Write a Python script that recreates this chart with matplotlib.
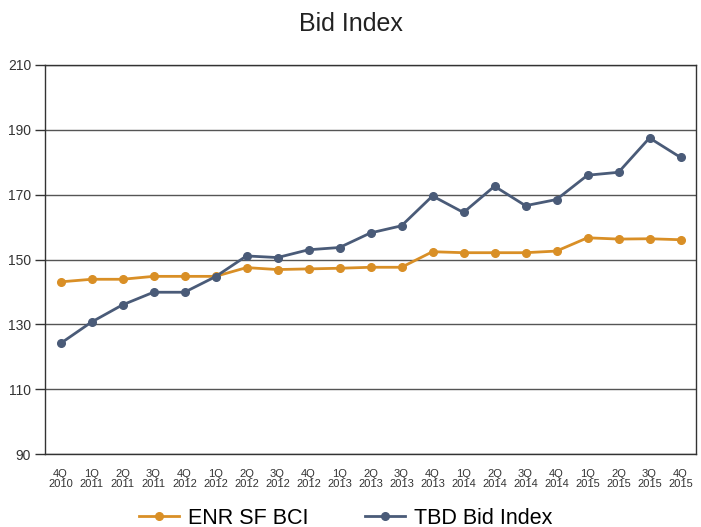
import matplotlib
matplotlib.use("Agg")
import matplotlib.pyplot as plt

plt.rcParams['font.family'] = ['Liberation Sans', 'DejaVu Sans']

quarters = ["4Q\n2010", "1Q\n2011", "2Q\n2011", "3Q\n2011", "4Q\n2012", "1Q\n2012",
            "2Q\n2012", "3Q\n2012", "4Q\n2012", "1Q\n2013", "2Q\n2013", "3Q\n2013",
            "4Q\n2013", "1Q\n2014", "2Q\n2014", "3Q\n2014", "4Q\n2014", "1Q\n2015",
            "2Q\n2015", "3Q\n2015", "4Q\n2015"]

enr_bci = [143.1, 143.9, 143.9, 144.8, 144.8, 144.8, 147.5, 146.9, 147.1, 147.3,
           147.6, 147.6, 152.4, 152.1, 152.1, 152.1, 152.6, 156.7, 156.3, 156.4, 156.1]
tbd_bid = [124.1, 130.7, 136.0, 139.9, 139.9, 144.7, 151.1, 150.6, 153.0, 153.7,
           158.2, 160.4, 169.6, 164.5, 172.6, 166.6, 168.5, 176.0, 176.9, 187.5, 181.5]

yticks = [90, 110, 130, 150, 170, 190, 210]

orange = "#D98F26"
slate = "#4A5B78"

fig = plt.figure(figsize=(7.01, 5.27), dpi=100)
ax = fig.add_axes([45 / 701, 1 - 454 / 527, 651 / 701, 389 / 527])

x = list(range(len(quarters)))
ax.plot(x, enr_bci, color=orange, lw=2, marker="o", ms=5.5, label="ENR SF BCI", zorder=3)
ax.plot(x, tbd_bid, color=slate, lw=2, marker="o", ms=5.5, label="TBD Bid Index", zorder=3)

ax.set_xlim(-0.5, len(quarters) - 0.5)
ax.set_ylim(90, 210)
ax.set_yticks(yticks)
ax.set_xticks(x)
ax.set_xticklabels(quarters, fontsize=8, color="#333333", linespacing=1.0)
ax.tick_params(axis="y", labelsize=10, colors="#333333", length=7, width=1, pad=3)
ax.tick_params(axis="x", length=0, pad=11)
ax.yaxis.grid(True, color="#555555", lw=1)
ax.set_axisbelow(True)
for s in ax.spines.values():
    s.set_color("#333333")
    s.set_linewidth(1)

fig.text(0.5, 1 - 24 / 527, "Bid Index", ha="center", va="center", fontsize=18, color="#222222")

fig.legend(loc="center", bbox_to_anchor=(345.5 / 701, 1 - 518 / 527), ncol=2, frameon=False,
           fontsize=15.5, handlelength=1.9, columnspacing=2.6, handletextpad=0.4)

fig.savefig("out.png", dpi=100)
